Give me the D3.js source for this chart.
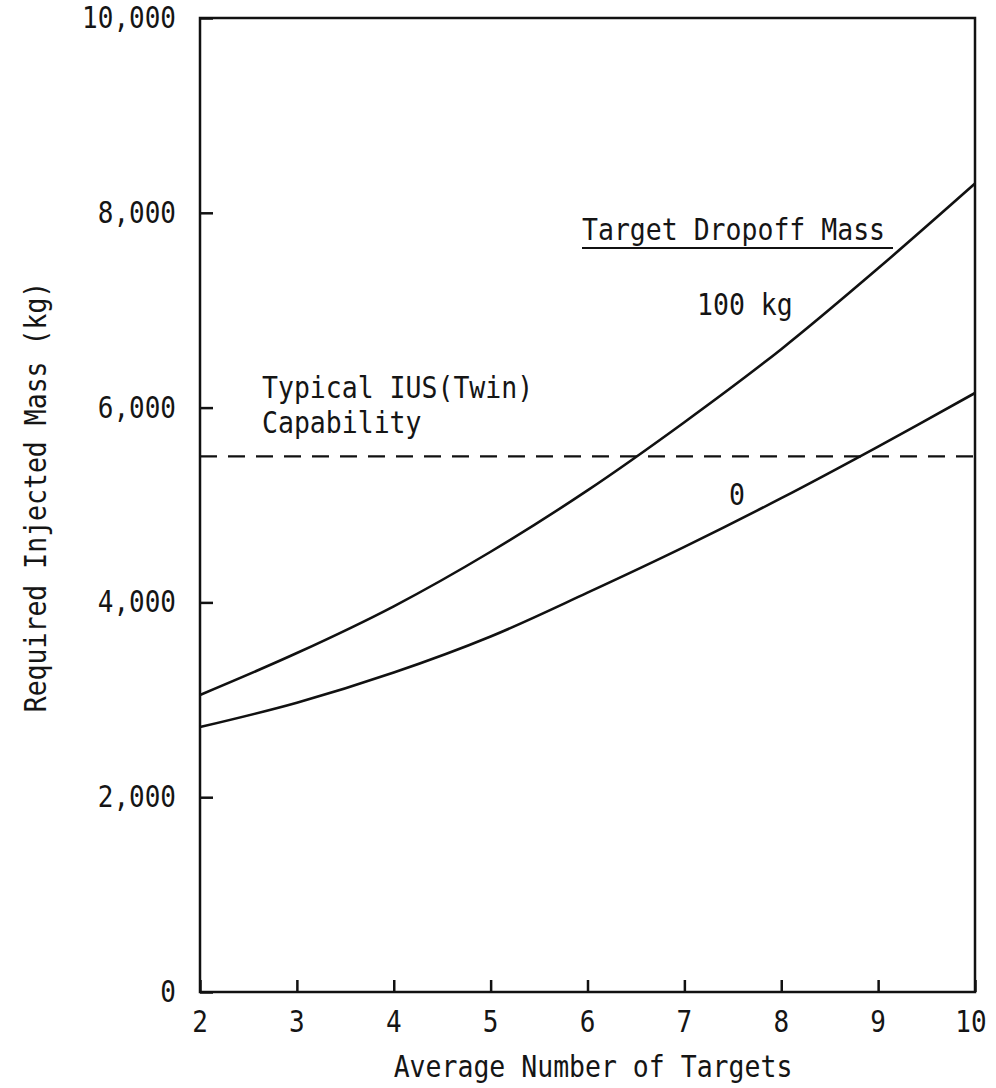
<!DOCTYPE html>
<html>
<head>
<meta charset="utf-8">
<script src="https://cdn.jsdelivr.net/npm/d3@7"></script>
<style>
  body { margin: 0; background: #fff; }
  svg { display: block; }
  text { font-family: "DejaVu Sans Mono", monospace; fill: #151515; }
</style>
</head>
<body>
<svg id="chart"></svg>
<script>
// values
const targets = [2, 3, 4, 5, 6, 7, 8, 9, 10];
const mass100kg = [3050, 3480, 3960, 4520, 5150, 5850, 6600, 7430, 8300];
const mass0kg = [2720, 2970, 3280, 3650, 4100, 4570, 5070, 5600, 6150];
const capability = 5500;
const xTicks = [2, 3, 4, 5, 6, 7, 8, 9, 10];
const yTicks = [0, 2000, 4000, 6000, 8000, 10000];

const W = 996, H = 1088;
const margin = {top: 18, right: 21, bottom: 96, left: 200};

const svg = d3.select('#chart')
    .attr('width', W)
    .attr('height', H);

const x = d3.scaleLinear().domain([2, 10]).range([margin.left, W - margin.right]);
const y = d3.scaleLinear().domain([0, 10000]).range([H - margin.bottom, margin.top]);

const fmt = d3.format(',');
const ink = '#111';

// stretched typewriter-like text
function label(g, tx, ty, str, size, anchor) {
  return g.append('text')
      .attr('transform', `translate(${tx},${ty}) scale(1,1.13)`)
      .attr('text-anchor', anchor || 'start')
      .style('font-size', size + 'px')
      .text(str);
}

// frame
svg.append('rect')
    .attr('x', x(2)).attr('y', y(10000))
    .attr('width', x(10) - x(2)).attr('height', y(0) - y(10000))
    .attr('fill', 'none').attr('stroke', ink).attr('stroke-width', 2.5);

// ticks pointing inward
const xAxis = d3.axisBottom(x).tickValues(xTicks).tickSize(-12).tickFormat('');
svg.append('g')
    .attr('transform', `translate(0,${y(0)})`)
    .call(xAxis)
    .call(g => g.select('.domain').remove())
    .call(g => g.selectAll('line').attr('stroke', ink).attr('stroke-width', 2.5));

const yAxis = d3.axisLeft(y).tickValues(yTicks).tickSize(-13).tickFormat('');
svg.append('g')
    .attr('transform', `translate(${x(2)},0)`)
    .call(yAxis)
    .call(g => g.select('.domain').remove())
    .call(g => g.selectAll('line').attr('stroke', ink).attr('stroke-width', 2.5));

// tick labels
const labels = svg.append('g');
yTicks.forEach(v => label(labels, 176, y(v) + 10, fmt(v), 26, 'end'));
xTicks.forEach(v => label(labels, v === 10 ? x(v) - 4 : x(v), 1032, String(v), 26, 'middle'));

// axis titles
label(labels, 593, 1077, 'Average Number of Targets', 26.5, 'middle');
labels.append('text')
    .attr('transform', `translate(46,497) rotate(-90) scale(1,1.13)`)
    .attr('text-anchor', 'middle')
    .style('font-size', '26.5px')
    .text('Required Injected Mass (kg)');

// capability line
svg.append('line')
    .attr('x1', x(2)).attr('x2', x(10))
    .attr('y1', y(capability)).attr('y2', y(capability))
    .attr('stroke', ink).attr('stroke-width', 2.2)
    .attr('stroke-dasharray', '17,11');

// curves
const line = d3.line()
    .x((d, i) => x(targets[i]))
    .y(d => y(d))
    .curve(d3.curveCatmullRom.alpha(0.5));

[mass100kg, mass0kg].forEach(series => {
  svg.append('path')
      .datum(series)
      .attr('d', line)
      .attr('fill', 'none')
      .attr('stroke', ink)
      .attr('stroke-width', 2.6);
});

// annotations
label(labels, 262, 398, 'Typical IUS(Twin)', 26.5);
label(labels, 262, 433, 'Capability', 26.5);
label(labels, 582, 240, 'Target Dropoff Mass', 26.5);
svg.append('line')
    .attr('x1', 582).attr('x2', 893)
    .attr('y1', 248).attr('y2', 248)
    .attr('stroke', ink).attr('stroke-width', 2);
label(labels, 697, 315, '100 kg', 26.5);
label(labels, 729, 505, '0', 26.5);
</script>
</body>
</html>
